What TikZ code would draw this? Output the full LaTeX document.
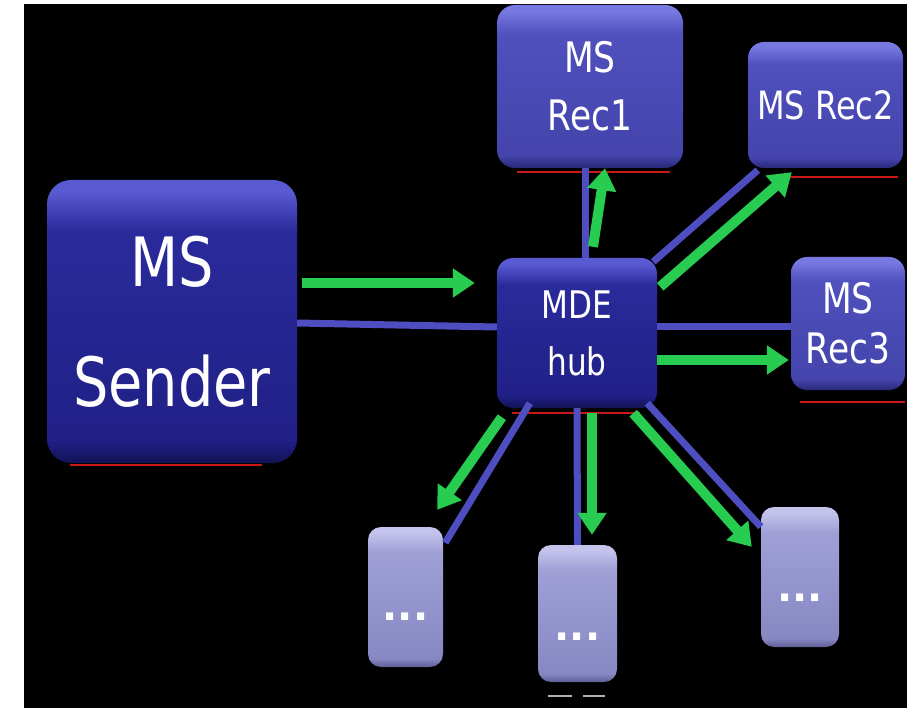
\documentclass[tikz,border=0pt]{standalone}
\usepackage{fontspec}
\newfontfamily\boxfont[FakeStretch=0.82]{DejaVu Sans}
\newfontfamily\dotfont{DejaVu Sans}
\usetikzlibrary{arrows.meta,calc}
\definecolor{conblue}{RGB}{78,78,192}
\definecolor{arrgreen}{RGB}{40,204,80}
\definecolor{artred}{RGB}{200,25,25}
\definecolor{dkA}{RGB}{90,90,210}
\definecolor{dkB}{RGB}{42,42,155}
\definecolor{dkC}{RGB}{32,32,135}
\definecolor{dkD}{RGB}{18,18,85}
\definecolor{rcA}{RGB}{120,120,225}
\definecolor{rcB}{RGB}{80,80,190}
\definecolor{rcC}{RGB}{68,68,172}
\definecolor{rcD}{RGB}{40,40,120}
\definecolor{ltA}{RGB}{195,195,235}
\definecolor{ltB}{RGB}{160,160,215}
\definecolor{ltC}{RGB}{135,135,195}
\definecolor{ltD}{RGB}{95,95,150}
\pgfdeclareverticalshading{darkshade}{100bp}{color(0bp)=(dkD); color(25bp)=(dkD); color(29bp)=(dkC); color(66bp)=(dkB); color(73bp)=(dkA); color(75bp)=(dkA); color(100bp)=(dkA)}
\pgfdeclareverticalshading{recshade}{100bp}{color(0bp)=(rcD); color(25bp)=(rcD); color(29bp)=(rcC); color(66bp)=(rcB); color(73bp)=(rcA); color(75bp)=(rcA); color(100bp)=(rcA)}
\pgfdeclareverticalshading{liteshade}{100bp}{color(0bp)=(ltD); color(25bp)=(ltD); color(28bp)=(ltC); color(66bp)=(ltB); color(73bp)=(ltA); color(75bp)=(ltA); color(100bp)=(ltA)}
\tikzset{
  box/.style={rounded corners=16pt, inner sep=0pt, align=center, text=white},
  darkbox/.style={box, shading=darkshade},
  recbox/.style={box, shading=recshade},
  litebox/.style={box, shading=liteshade, rounded corners=13pt, minimum width=76pt, minimum height=139pt},
  dotstext/.style={text=white, inner sep=0pt, font=\dotfont\bfseries\fontsize{40}{40}\selectfont},
  conn/.style={draw=conblue, line width=7pt},
  flow/.style={draw=arrgreen, line width=10pt, -{Triangle[width=28pt,length=22pt]}},
  artline/.style={draw=artred, line width=1.6pt},
}
\begin{document}
\begin{tikzpicture}[x=1pt,y=-1pt]
\useasboundingbox (0,0) rectangle (907,708);
\fill[white] (0,0) rectangle (907,708);
\fill[black] (24,4) rectangle (907,708);

% artifact lines under the boxes
\coordinate (s1) at (70,465); \coordinate (s2) at (262,465);
\draw[artline] (s1) -- (s2);
\coordinate (r1a) at (517,172); \coordinate (r1b) at (670,172);
\draw[artline] (r1a) -- (r1b);
\coordinate (r2a) at (790,177); \coordinate (r2b) at (898,177);
\draw[artline] (r2a) -- (r2b);
\coordinate (ha) at (512,413); \coordinate (hb) at (640,413);
\draw[artline] (ha) -- (hb);
\coordinate (r3a) at (800,402); \coordinate (r3b) at (905,402);
\draw[artline] (r3a) -- (r3b);

% boxes
\node[darkbox, rounded corners=24pt, minimum width=250pt, minimum height=283pt,
      font=\boxfont\fontsize{68}{120}\selectfont] (sender) at (172,321.5) {MS\\Sender};
\node[darkbox, minimum width=160pt, minimum height=150pt,
      font=\boxfont\fontsize{38}{57}\selectfont] (hub) at (577,333) {MDE\\hub};
\node[recbox, rounded corners=18pt, minimum width=186pt, minimum height=163pt,
      font=\boxfont\fontsize{42}{58}\selectfont] (rec1) at (590,86.5) {MS\\Rec1};
\node[recbox, minimum width=155pt, minimum height=126pt,
      font=\boxfont\fontsize{39}{44}\selectfont] (rec2) at (825.5,105) {MS Rec2};
\node[recbox, minimum width=114pt, minimum height=133pt,
      font=\boxfont\fontsize{42}{50}\selectfont] (rec3) at (848,323.5) {MS\\Rec3};
\node[litebox, minimum width=75pt, minimum height=140pt] (da) at (405.5,597) {};
\node[litebox, minimum width=79pt, minimum height=137pt] (db) at (577.5,613.5) {};
\node[litebox, minimum width=78pt, minimum height=140pt] (dc) at (800,577) {};
\node[dotstext] (dat) at ($(da.center)+(0,20)$) {...};
\node[dotstext] (dbt) at ($(db.center)+(0,23)$) {...};
\node[dotstext] (dct) at ($(dc.center)+(0,21)$) {...};

% small marks below the middle box
\coordinate (m1) at (548,696); \coordinate (m2) at (572,696);
\coordinate (m3) at (583,696); \coordinate (m4) at (605,696);
\draw[gray!60, line width=2pt] (m1) -- (m2) (m3) -- (m4);

% blue connectors
\draw[conn] ($(sender.east)+(0,1.5)$) -- ($(hub.west)+(0,-6)$);
\draw[conn] ($(hub.north)+(8,0)$) -- ($(rec1.south)+(-5,0)$);
\draw[conn] ($(hub.north east)+(-4,4)$) -- ($(rec2.south west)+(10,2)$);
\draw[conn] ($(hub.east)+(0,-6)$) -- ($(rec3.west)+(0,3.5)$);
\draw[conn] ($(hub.south west)+(33,-5)$) -- ($(da.north east)+(2,16)$);
\draw[conn] (hub.south) -- (db.north);
\draw[conn] ($(hub.south east)+(-10,-5)$) -- ($(dc.north west)+(0,20)$);

% green flow arrows
\draw[flow] ($(sender.east)+(5,-38.5)$) -- ($(hub.west)+(-22,-50)$);
\draw[flow] ($(hub.north)+(16,-11)$) -- ($(rec1.south)+(15,0)$);
\draw[flow] ($(hub.north east)+(3,29)$) -- ($(rec2.south west)+(44,4)$);
\draw[flow] ($(hub.east)+(0,27)$) -- ($(rec3.west)+(-2,36.5)$);
\draw[flow] ($(hub.south west)+(5,9)$) -- ($(da.north east)+(-6,-17)$);
\draw[flow] ($(hub.south)+(15,5)$) -- ($(db.north)+(14.5,-10)$);
\draw[flow] ($(hub.south east)+(-24,5)$) -- ($(dc.north west)+(-9,40)$);
\end{tikzpicture}
\end{document}
